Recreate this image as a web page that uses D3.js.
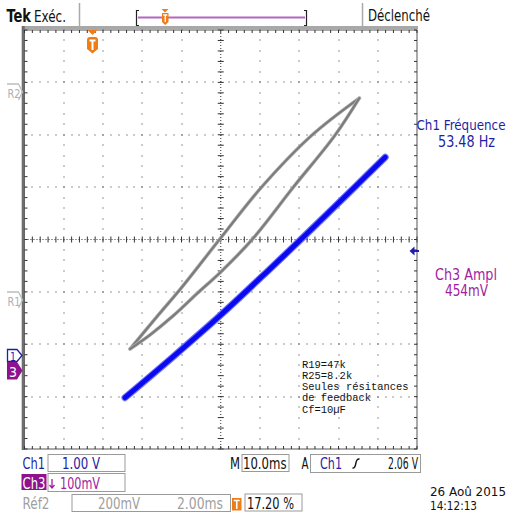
<!DOCTYPE html>
<html><head><meta charset="utf-8">
<script src="https://cdn.jsdelivr.net/npm/d3@7"></script>
<style>html,body{margin:0;padding:0;background:#fff;overflow:hidden}svg{display:block}
text{font-family:"DejaVu Sans Condensed","Liberation Sans Narrow","DejaVu Sans",sans-serif}</style>
</head><body>
<script>
// ---- data (in screen divisions, XY mode) ----
const xDivs = [-5,-4,-3,-2,-1,0,1,2,3,4,5];
const yDivs = [-4,-3,-2,-1,0,1,2,3,4];
// Réf2 hysteresis loop (grey)
const refUpperX = [-2.31,-1.60,-1.00,0.00,1.04,2.32,3.53];
const refUpperY = [-2.09,-1.45,-0.92,0.03,1.00,1.99,2.70];
const refLowerX = [-2.31,-1.80,-1.20,-0.60,0.00,0.80,1.85,2.91,3.53];
const refLowerY = [-2.09,-1.82,-1.45,-1.03,-0.62,0.00,1.00,1.99,2.70];
// Ch3 trace (blue)
const ch3X = [-2.44,-1.20,0.00,1.20,2.40,3.40,4.19];
const ch3Y = [-3.02,-2.23,-1.44,-0.60,0.26,0.99,1.57];
// texts
const noteLines = ["R19=47k","R25=8.2k","Seules résitances","de feedback","Cf=10µF"];
const measLabels = ["Ch1 Fréquence","53.48 Hz","Ch3 Ampl","454mV"];
const statusTop = ["Tek","Exéc.","Déclenché"];
const chanSettings = ["Ch1","1.00 V","Ch3","100mV","Réf2","200mV","2.00ms"];
const timeSettings = ["M","10.0ms","A","Ch1","2.06 V","17.20 %"];
const dateLines = ["26 Aoû 2015","14:12:13"];

const W=510,H=512;
const BLUE="#1f1fa6", PURPLE="#a01ea0", ORANGE="#ee7d18";
const svg=d3.select("body").append("svg").attr("width",W).attr("height",H);
svg.append("rect").attr("width",W).attr("height",H).attr("fill","#fff");

const x=d3.scaleLinear().domain([-5,5]).range([24.5,417]);
const y=d3.scaleLinear().domain([-4,4]).range([449,30]);

// ---- graticule ----
const grid=svg.append("g");
const dot=(cx,cy,c)=>grid.append("rect").attr("x",Math.round(cx)-0.5).attr("y",Math.round(cy)-0.5).attr("width",1).attr("height",1).attr("fill",c||"#333");
const minorX=d3.range(-50,51).map(i=>i/10).filter(v=>Math.abs(v*5-Math.round(v*5))<1e-6);
const minorY=d3.range(-40,41).map(i=>i/10).filter(v=>Math.abs(v*5-Math.round(v*5))<1e-6);
xDivs.filter(d=>d!==0&&Math.abs(d)!==5).forEach(d=>minorY.forEach(v=>dot(x(d),y(v))));
yDivs.filter(d=>d!==0&&Math.abs(d)!==4).forEach(d=>minorX.forEach(v=>dot(x(v),y(d))));
// center lines
grid.append("line").attr("x1",x(-5)).attr("x2",x(5)).attr("y1",y(0)).attr("y2",y(0)).attr("stroke","#333").attr("stroke-dasharray","1,2");
grid.append("line").attr("x1",x(0)).attr("x2",x(0)).attr("y1",y(4)).attr("y2",y(-4)).attr("stroke","#333").attr("stroke-dasharray","1,2");
minorX.forEach(v=>grid.append("line").attr("x1",x(v)).attr("x2",x(v)).attr("y1",y(0)-3).attr("y2",y(0)+3).attr("stroke","#333"));
minorY.forEach(v=>grid.append("line").attr("x1",x(0)-3).attr("x2",x(0)+3).attr("y1",y(v)).attr("y2",y(v)).attr("stroke","#333"));
// frame
grid.append("rect").attr("x",x(-5)).attr("y",y(4)).attr("width",x(5)-x(-5)).attr("height",y(-4)-y(4)).attr("fill","none").attr("stroke","#555").attr("stroke-width",1);
grid.append("line").attr("x1",22).attr("x2",x(5)+1).attr("y1",27.5).attr("y2",27.5).attr("stroke","#a8a8a8").attr("stroke-width",3);
grid.append("line").attr("x1",23.2).attr("x2",23.2).attr("y1",26).attr("y2",450).attr("stroke","#6e6e6e").attr("stroke-width",3);
minorX.forEach(v=>{
  grid.append("line").attr("x1",x(v)).attr("x2",x(v)).attr("y1",y(4)).attr("y2",y(4)+3).attr("stroke","#333");
  grid.append("line").attr("x1",x(v)).attr("x2",x(v)).attr("y1",y(-4)).attr("y2",y(-4)-3).attr("stroke","#333");
});
minorY.forEach(v=>{
  grid.append("line").attr("x1",x(-5)).attr("x2",x(-5)+3).attr("y1",y(v)).attr("y2",y(v)).attr("stroke","#333");
  grid.append("line").attr("x1",x(5)).attr("x2",x(5)-3).attr("y1",y(v)).attr("y2",y(v)).attr("stroke","#333");
});

// ---- traces ----
const line=d3.line().x(d=>x(d[0])).y(d=>y(d[1])).curve(d3.curveCatmullRom.alpha(0.5));
const refUpper=d3.zip(refUpperX,refUpperY), refLower=d3.zip(refLowerX,refLowerY);
const ch3=d3.zip(ch3X,ch3Y);
[refUpper,refLower].forEach(p=>{
  svg.append("path").attr("d",line(p)).attr("fill","none").attr("stroke","#b4b4b4").attr("stroke-width",3.6).attr("stroke-linecap","round");
  svg.append("path").attr("d",line(p)).attr("fill","none").attr("stroke","#7c7c7c").attr("stroke-width",2.2).attr("stroke-linecap","round");
});
svg.append("path").attr("d",line(ch3)).attr("fill","none").attr("stroke","#7070ff").attr("stroke-width",7).attr("stroke-linecap","round");
svg.append("path").attr("d",line(ch3)).attr("fill","none").attr("stroke","#0a0af0").attr("stroke-width",4.8).attr("stroke-linecap","round");

// ---- annotation ----
const note=svg.append("g");
noteLines.forEach((t,i)=>note.append("text").attr("x",302).attr("y",367.5+i*11.3).text(t)
  .style("font-family","'Liberation Mono','DejaVu Sans Mono',monospace").attr("font-size",10.5).attr("fill","#111")
  .attr("textLength",t.length*6.27).attr("lengthAdjust","spacingAndGlyphs"));

// text helper
function txt(s,x0,y0,size,fill,len,opts){
  const t=svg.append("text").attr("x",x0).attr("y",y0).attr("font-size",size).attr("fill",fill).text(s);
  if(len) t.attr("textLength",len).attr("lengthAdjust","spacingAndGlyphs");
  if(opts&&opts.bold) t.attr("font-weight","bold");
  return t;
}
function box(x0,y0,x1,y1,stroke){svg.append("rect").attr("x",x0+0.5).attr("y",y0+0.5).attr("width",x1-x0).attr("height",y1-y0).attr("fill","none").attr("stroke",stroke||"#9a9a9a");}

// ---- top status bar ----
txt(statusTop[0],6.5,22,18,"#111",24.5,{bold:true});
txt(statusTop[1],34,22,15,"#111",32);
svg.append("line").attr("x1",79.5).attr("x2",79.5).attr("y1",3).attr("y2",26).attr("stroke","#aaa").attr("stroke-width",1.5);
svg.append("line").attr("x1",362.5).attr("x2",362.5).attr("y1",3).attr("y2",26).attr("stroke","#aaa").attr("stroke-width",1.5);
txt(statusTop[2],368,21,15,"#111",62);
// record bar
svg.append("line").attr("x1",138).attr("x2",305).attr("y1",17.5).attr("y2",17.5).attr("stroke","#b466c4").attr("stroke-width",2);
svg.append("path").attr("d","M139,10.5 H136.5 V25.5 H139").attr("fill","none").attr("stroke","#222").attr("stroke-width",1.2);
svg.append("path").attr("d","M304,10.5 H306.5 V25.5 H304").attr("fill","none").attr("stroke","#222").attr("stroke-width",1.2);
svg.append("path").attr("d","M161.5,9 L168.5,9 L165,12.5 Z").attr("fill",ORANGE);
svg.append("path").attr("d","M162,13 H168.5 V22 L165.2,25 L162,22 Z").attr("fill",ORANGE);
svg.append("path").attr("d","M163.2,15 H167.3 M165.25,15 V22").attr("stroke","#fff").attr("stroke-width",1.3);
// trigger position marker
svg.append("path").attr("d","M87.5,30 L97.5,30 L92.5,35 Z").attr("fill",ORANGE);
svg.append("path").attr("d","M87,40 Q87,37 90,37 H95 Q98,37 98,40 V49 L92.5,53.5 L87,49 Z").attr("fill",ORANGE);
svg.append("path").attr("d","M89.5,40.5 H95.5 M92.5,40.5 V50").attr("stroke","#fff").attr("stroke-width",2);

// ---- left markers ----
function refMarker(cy,label){
  svg.append("path").attr("d",`M7,${cy-8} H18.5 L22.5,${cy} L18.5,${cy+8}`).attr("fill","none").attr("stroke","#bdbdbd").attr("stroke-width",1.3);
  txt(label,7.5,cy+6,13,"#b0b0b0",13);
}
refMarker(92,"R2"); refMarker(300,"R1");
svg.append("path").attr("d","M7.5,349.5 H17 L22,355.5 L17,361.5 H7.5 Z").attr("fill","#fff").attr("stroke",BLUE).attr("stroke-width",1.3);
txt("1",10,360.5,12,BLUE,6);
svg.append("path").attr("d","M7,362 H17 L22.5,370.5 L17,379.5 H7 Z").attr("fill","#8e128e");
txt("3",9,377,14,"#fff",8);
// trigger level arrow (right)
svg.append("path").attr("d","M409.5,251 L414.5,246.5 L414.5,255.5 Z").attr("fill",BLUE);
svg.append("line").attr("x1",414).attr("x2",419).attr("y1",251).attr("y2",251).attr("stroke",BLUE).attr("stroke-width",2);

// ---- right measurements ----
txt(measLabels[0],416.5,130,14,BLUE,89);
txt(measLabels[1],438,146.5,15,BLUE,57);
txt(measLabels[2],435,279.5,15,PURPLE,62);
txt(measLabels[3],445,296,15,PURPLE,43);

// ---- bottom readouts ----
txt(chanSettings[0],22.5,469,15,BLUE,22.5);
box(47.5,454,124.5,471);
txt(chanSettings[1],62,469,15,BLUE,38);
svg.append("rect").attr("x",21.5).attr("y",474).attr("width",25).attr("height",16).attr("fill","#8e128e");
txt(chanSettings[2],22.5,488.5,15,"#fff",23);
box(47.5,473,124.5,491);
svg.append("path").attr("d","M52,479 V487.5 M49.5,485 L52,488 L54.5,485").attr("fill","none").attr("stroke",PURPLE).attr("stroke-width",1.3);
txt(chanSettings[3],60,488.5,15,PURPLE,40);
txt(chanSettings[4],22.5,508.5,15,"#a0a0a0",27);
box(71.5,494,230,511);
txt(chanSettings[5],98,508.5,15,"#a0a0a0",42);
txt(chanSettings[6],177,508.5,15,"#a0a0a0",46);
svg.append("path").attr("d","M232,498 H241.5 V510.5 H232 Z").attr("fill",ORANGE);
svg.append("path").attr("d","M233.8,500.5 H239.7 M236.75,500.5 V509").attr("stroke","#fff").attr("stroke-width",1.6);
box(244.5,493.5,301.5,510.5);
txt(timeSettings[5],247,508.5,15,"#111",47);

txt(timeSettings[0],230,469,15,"#111",10);
box(241.5,454,288.5,471);
txt(timeSettings[1],243,469,15,"#111",43.5);
txt(timeSettings[2],301.5,469,15,"#111",7);
box(310,454,420,472);
txt(timeSettings[3],320,469,15,BLUE,22);
svg.append("path").attr("d","M352.5,468 Q355,468.5 355.8,463.5 Q356.6,458.5 359.5,459").attr("fill","none").attr("stroke","#111").attr("stroke-width",1.5);
txt(timeSettings[4],388,469,15,"#111",30);

txt(dateLines[0],430,496,12.5,"#111",76);
txt(dateLines[1],430,509.5,12,"#111",47);
</script>
</body></html>
